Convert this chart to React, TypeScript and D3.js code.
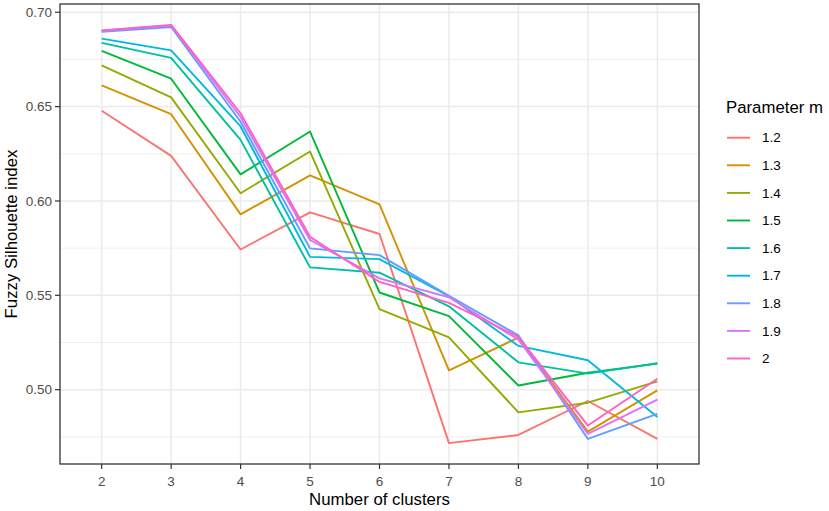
import * as d3 from 'd3'

// number of clusters (x axis, discrete)
const clusters = [2, 3, 4, 5, 6, 7, 8, 9, 10]

// fuzzy silhouette index per parameter m
const m12 = [0.6478, 0.6239, 0.5743, 0.594, 0.5825, 0.4717, 0.476, 0.494, 0.4739]
const m13 = [0.6612, 0.646, 0.5929, 0.6136, 0.5982, 0.5102, 0.5276, 0.4778, 0.4996]
const m14 = [0.6719, 0.6549, 0.6041, 0.6262, 0.5427, 0.5277, 0.488, 0.4931, 0.5044]
const m15 = [0.6795, 0.6648, 0.6141, 0.6368, 0.5515, 0.539, 0.5022, 0.509, 0.5138]
const m16 = [0.6838, 0.6758, 0.6324, 0.5648, 0.562, 0.5442, 0.5145, 0.5085, 0.514]
const m17 = [0.686, 0.6798, 0.6395, 0.5704, 0.5692, 0.5495, 0.5232, 0.5156, 0.4855]
const m18 = [0.6896, 0.6922, 0.642, 0.5749, 0.5713, 0.5498, 0.5288, 0.4739, 0.4872]
const m19 = [0.6902, 0.693, 0.6445, 0.5793, 0.559, 0.549, 0.5265, 0.4766, 0.4947]
const m20 = [0.6904, 0.6933, 0.6465, 0.581, 0.5571, 0.546, 0.528, 0.481, 0.5058]

const mLabels = ['1.2', '1.3', '1.4', '1.5', '1.6', '1.7', '1.8', '1.9', '2']
const mSeries = [m12, m13, m14, m15, m16, m17, m18, m19, m20]
const mColors = ['#F8766D', '#D39200', '#93AA00', '#00BA38', '#00C19F', '#00B9E3', '#619CFF', '#DB72FB', '#FF61C3']

const yTicks = [0.5, 0.55, 0.6, 0.65, 0.7]
const yMinor = [0.475, 0.525, 0.575, 0.625, 0.675]

const W = 829
const H = 511
const panel = { left: 60, right: 699, top: 4, bottom: 464 }
const font = '"Liberation Sans", Arial, sans-serif'

export default function App() {
  // ggplot-style discrete x: 0.6 units of padding each side
  const x = d3.scaleLinear().domain([clusters[0] - 0.6, clusters[clusters.length - 1] + 0.6]).range([panel.left, panel.right])

  const all = mSeries.flat()
  const [lo, hi] = d3.extent(all) as [number, number]
  const pad = (hi - lo) * 0.05
  const y = d3.scaleLinear().domain([lo - pad, hi + pad]).range([panel.bottom, panel.top])

  const line = d3
    .line<number>()
    .x((_, i) => x(clusters[i]))
    .y((d) => y(d))

  const legendX = 726
  const legendY0 = 137.7
  const legendStep = 27.6

  return (
    <div style={{ position: 'absolute', left: 0, top: 0 }}>
      <svg width={W} height={H} style={{ display: 'block', background: '#fff' }}>
        <rect x={panel.left} y={panel.top} width={panel.right - panel.left} height={panel.bottom - panel.top} fill="#fff" />

        {/* grid */}
        {yMinor.map((v) => (
          <line key={'mn' + v} x1={panel.left} x2={panel.right} y1={y(v)} y2={y(v)} stroke="#EBEBEB" strokeWidth={0.8} />
        ))}
        {yTicks.map((v) => (
          <line key={'mj' + v} x1={panel.left} x2={panel.right} y1={y(v)} y2={y(v)} stroke="#EBEBEB" strokeWidth={1.5} />
        ))}
        {clusters.map((c) => (
          <line key={'vx' + c} x1={x(c)} x2={x(c)} y1={panel.top} y2={panel.bottom} stroke="#EBEBEB" strokeWidth={1.5} />
        ))}

        {/* series */}
        {mSeries.map((s, i) => (
          <path key={mLabels[i]} d={line(s) || ''} fill="none" stroke={mColors[i]} strokeWidth={1.9} strokeLinejoin="round" />
        ))}

        <rect
          x={panel.left}
          y={panel.top}
          width={panel.right - panel.left}
          height={panel.bottom - panel.top}
          fill="none"
          stroke="#333333"
          strokeWidth={1.3}
        />

        {/* y axis */}
        {yTicks.map((v) => (
          <g key={'yt' + v}>
            <line x1={panel.left - 5} x2={panel.left} y1={y(v)} y2={y(v)} stroke="#333333" strokeWidth={1.2} />
            <text x={panel.left - 8} y={y(v)} dy="0.35em" textAnchor="end" fontFamily={font} fontSize={13.5} fill="#4D4D4D">
              {d3.format('.2f')(v)}
            </text>
          </g>
        ))}

        {/* x axis */}
        {clusters.map((c) => (
          <g key={'xt' + c}>
            <line x1={x(c)} x2={x(c)} y1={panel.bottom} y2={panel.bottom + 5} stroke="#333333" strokeWidth={1.2} />
            <text x={x(c)} y={486} textAnchor="middle" fontFamily={font} fontSize={13.5} fill="#4D4D4D">
              {c}
            </text>
          </g>
        ))}

        <text x={(panel.left + panel.right) / 2} y={505} textAnchor="middle" fontFamily={font} fontSize={16.8} fill="#000">
          Number of clusters
        </text>
        <text
          transform={`translate(17,${(panel.top + panel.bottom) / 2}) rotate(-90)`}
          textAnchor="middle"
          fontFamily={font}
          fontSize={16.8}
          fill="#000"
        >
          Fuzzy Silhouette index
        </text>

        {/* legend */}
        <text x={legendX} y={113} fontFamily={font} fontSize={16.8} fill="#000">
          Parameter m
        </text>
        {mLabels.map((lab, i) => {
          const cy = legendY0 + i * legendStep
          return (
            <g key={'lg' + lab}>
              <line x1={727} x2={750} y1={cy} y2={cy} stroke={mColors[i]} strokeWidth={1.9} />
              <text x={762} y={cy} dy="0.35em" fontFamily={font} fontSize={13.5} fill="#000">
                {lab}
              </text>
            </g>
          )
        })}
      </svg>
    </div>
  )
}
